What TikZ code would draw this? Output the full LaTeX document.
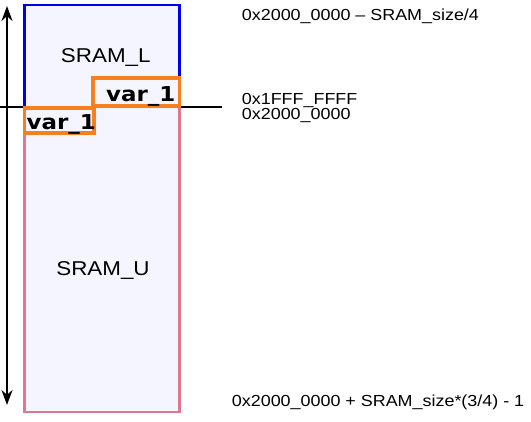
\documentclass[tikz,border=0pt]{standalone}
\usepackage{fontspec}
\setmainfont{Liberation Sans}[FakeStretch=1.12]
\newfontfamily\varfont{DejaVu Sans}[FakeStretch=1.12]
\usetikzlibrary{arrows.meta}
\definecolor{sramfill}{HTML}{F5F5FF}
\definecolor{sramblue}{HTML}{0000EE}
\definecolor{srampink}{HTML}{E0778F}
\definecolor{varorange}{HTML}{F7801E}

\begin{document}
\begin{tikzpicture}[x=1pt, y=-1pt,
    region/.style={draw, fill=sramfill, line width=2.5pt, minimum width=155pt, inner sep=0pt},
    regiontext/.style={anchor=base, inner sep=0pt, font=\fontsize{20}{24}\selectfont},
    varbox/.style={draw=varorange, line width=3.5pt, inner sep=0pt},
    vartext/.style={anchor=base west, inner sep=0pt, font=\varfont\bfseries\fontsize{20.5}{24}\selectfont},
    addr/.style={anchor=base west, inner sep=0pt, font=\fontsize{16}{19}\selectfont}]
\useasboundingbox (0,0) rectangle (531,422);

% the two halves of the SRAM
\node[region, draw=sramblue, minimum height=102pt] (sraml) at (101.75,56) {};
\node[region, draw=srampink, minimum height=305pt] (sramu) at (101.75,259.5) {};
\node[regiontext] (sramltext) at (105.8,62.3) {SRAM\_L};
\node[regiontext] (sramutext) at (103,275.7) {SRAM\_U};

% boundary and address range
\coordinate (lineL) at (0,107);
\coordinate (lineR) at (222,107);
\draw[line width=1.8pt] (lineL) -- (lineR);
\coordinate (arrtop) at (7,6);
\coordinate (arrbot) at (7,405);
\draw[{Stealth[length=15pt,width=11pt]}-{Stealth[length=15pt,width=11pt]}, line width=2pt] (arrtop) -- (arrbot);

% the variable on both sides
\node[varbox, minimum width=86.5pt, minimum height=28.25pt] (varhi) at (136,91.9) {};
\node[varbox, minimum width=69.7pt, minimum height=25pt] (varlo) at (59.35,120.5) {};
\node[vartext] (varhitext) at (106,101.7) {var\_1};
\node[vartext] (varlotext) at (26.5,129.3) {var\_1};

% addresses
\node[addr] (addrtop) at (241.7,20.7) {0x2000\_0000 \textendash{} SRAM\_size/4};
\node[addr] (addrend) at (241.7,104.3) {0x1FFF\_FFFF};
\node[addr] (addrbase) at (241.7,120) {0x2000\_0000};
\node[addr] (addrbot) at (231.7,406.7) {0x2000\_0000 + SRAM\_size*(3/4) - 1};
\end{tikzpicture}
\end{document}
